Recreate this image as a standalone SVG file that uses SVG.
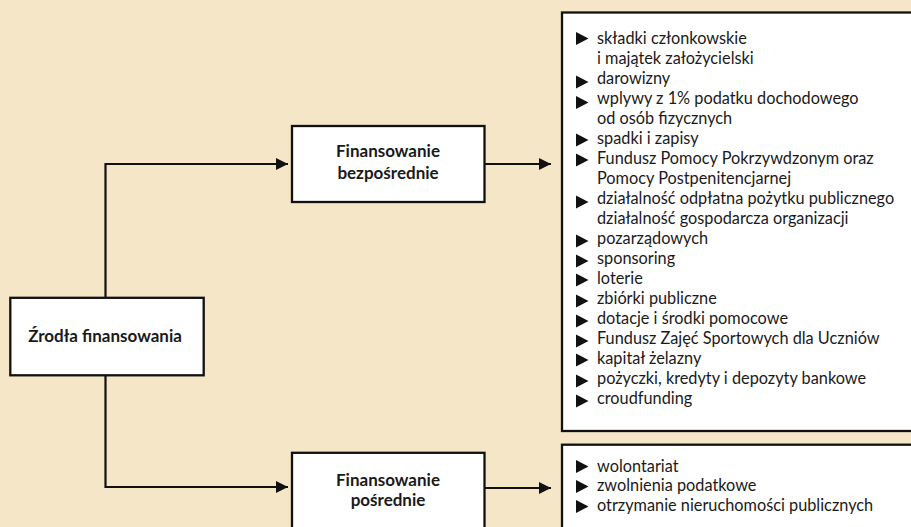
<svg xmlns="http://www.w3.org/2000/svg" width="911" height="527" viewBox="0 0 911 527">
<defs>
<style>
.box{fill:#fff;stroke:#111;stroke-width:2.3}
.lbl{font-family:Lato,"Liberation Sans",sans-serif;font-weight:bold;font-size:17px;fill:#1a1a1a;text-anchor:middle}
.li{font-family:Lato,"Liberation Sans",sans-serif;font-size:16.3px;fill:#1a1a1a}
.con{fill:none;stroke:#111;stroke-width:2.2}
.bul{fill:#111}
</style>
<marker id="ah" viewBox="0 0 12 12" refX="12" refY="6" markerWidth="12" markerHeight="12" markerUnits="userSpaceOnUse" orient="auto">
<path d="M0,0 L12,6 L0,12 Z" fill="#111"/>
</marker>
<path id="tri" d="M0,-6.5 L12.5,0 L0,6.5 Z"/>
</defs>
<rect width="911" height="527" fill="#F5E6C8"/>
<g id="connectors">
<path class="con" d="M105.5,375 V164 H288" marker-end="url(#ah)"/>
<path class="con" d="M105.5,375 V487 H288" marker-end="url(#ah)"/>
<path class="con" d="M485,164 H551" marker-end="url(#ah)"/>
<path class="con" d="M485,488 H551" marker-end="url(#ah)"/>
</g>
<g id="zrodla">
<rect class="box" x="10.3" y="297.8" width="193.4" height="77.5"/>
<text class="lbl" x="105" y="342">Źrodła finansowania</text>
</g>
<g id="bezposrednie">
<rect class="box" x="292" y="126" width="192.5" height="76"/>
<text class="lbl" x="388" y="157">Finansowanie</text>
<text class="lbl" x="388" y="179">bezpośrednie</text>
</g>
<g id="posrednie">
<rect class="box" x="292" y="452.8" width="192.5" height="90"/>
<text class="lbl" x="388" y="485.5">Finansowanie</text>
<text class="lbl" x="388" y="506">pośrednie</text>
</g>
<g id="lista-bezposrednie">
<rect class="box" x="562" y="12.5" width="360" height="418.5"/>
<g class="bul">
<use href="#tri" x="576" y="38.5"/>
<use href="#tri" x="576" y="82"/>
<use href="#tri" x="576" y="102.5"/>
<use href="#tri" x="576" y="140"/>
<use href="#tri" x="576" y="160"/>
<use href="#tri" x="576" y="202"/>
<use href="#tri" x="576" y="241"/>
<use href="#tri" x="576" y="261"/>
<use href="#tri" x="576" y="280"/>
<use href="#tri" x="576" y="301"/>
<use href="#tri" x="576" y="321"/>
<use href="#tri" x="576" y="341"/>
<use href="#tri" x="576" y="360"/>
<use href="#tri" x="576" y="381"/>
<use href="#tri" x="576" y="401"/>
</g>
<text class="li" x="597" y="44">składki członkowskie</text>
<text class="li" x="597" y="64">i majątek założycielski</text>
<text class="li" x="597" y="84">darowizny</text>
<text class="li" x="597" y="104">wplywy z 1% podatku dochodowego</text>
<text class="li" x="597" y="124">od osób fizycznych</text>
<text class="li" x="597" y="144">spadki i zapisy</text>
<text class="li" x="597" y="164">Fundusz Pomocy Pokrzywdzonym oraz</text>
<text class="li" x="597" y="184">Pomocy Postpenitencjarnej</text>
<text class="li" x="597" y="204">działalność odpłatna pożytku publicznego</text>
<text class="li" x="597" y="224">działalność gospodarcza organizacji</text>
<text class="li" x="597" y="244">pozarządowych</text>
<text class="li" x="597" y="264">sponsoring</text>
<text class="li" x="597" y="284">loterie</text>
<text class="li" x="597" y="304">zbiórki publiczne</text>
<text class="li" x="597" y="324">dotacje i środki pomocowe</text>
<text class="li" x="597" y="344">Fundusz Zajęć Sportowych dla Uczniów</text>
<text class="li" x="597" y="364">kapitał żelazny</text>
<text class="li" x="597" y="384">pożyczki, kredyty i depozyty bankowe</text>
<text class="li" x="597" y="404">croudfunding</text>
</g>
<g id="lista-posrednie">
<rect class="box" x="562" y="444.7" width="360" height="100"/>
<g class="bul">
<use href="#tri" x="576" y="466.5"/>
<use href="#tri" x="576" y="486.5"/>
<use href="#tri" x="576" y="506.5"/>
</g>
<text class="li" x="597" y="471.5">wolontariat</text>
<text class="li" x="597" y="491">zwolnienia podatkowe</text>
<text class="li" x="597" y="510.5">otrzymanie nieruchomości publicznych</text>
</g>
</svg>
